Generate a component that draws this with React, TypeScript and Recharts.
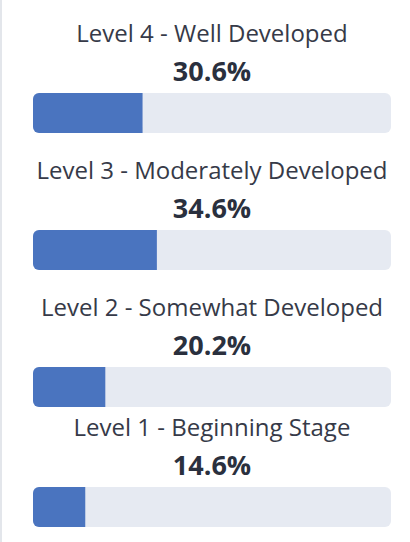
import React from 'react';
import { BarChart, Bar, XAxis, YAxis } from 'recharts';

// share of responses per development level (%)
const LEVELS = [
  'Level 4 - Well Developed',
  'Level 3 - Moderately Developed',
  'Level 2 - Somewhat Developed',
  'Level 1 - Beginning Stage',
];
const PERCENTS = [30.6, 34.6, 20.2, 14.6];

// space above each row, px
const ROW_GAPS = [19, 23, 23, 6];

const FONT = '"Open Sans", "Noto Sans", sans-serif';
const BAR_COLOR = '#4a74bf';
const TRACK_COLOR = '#e6eaf2';

const LevelRow = ({ label, value, gap }: { label: string; value: number; gap: number }) => {
  const data = [{ name: label, value }];
  return (
    <div style={{ marginTop: gap }}>
      <div
        style={{
          padding: '0 19px 0 33px',
          textAlign: 'center',
          fontSize: 24,
          lineHeight: '28px',
          color: '#363a48',
          marginBottom: 8,
          whiteSpace: 'nowrap',
        }}
      >
        {label}
      </div>
      <div
        style={{
          padding: '0 19px 0 33px',
          textAlign: 'center',
          fontSize: 27,
          fontWeight: 700,
          lineHeight: '32px',
          color: '#2a303e',
          marginBottom: 6,
        }}
      >
        {value.toFixed(1)}%
      </div>
      <BarChart
        width={410}
        height={40}
        data={data}
        layout="vertical"
        margin={{ top: 0, right: 19, bottom: 0, left: 33 }}
        barCategoryGap={0}
        barGap={0}
      >
        <XAxis type="number" domain={[0, 100]} hide />
        <YAxis type="category" dataKey="name" hide />
        <Bar
          dataKey="value"
          fill={BAR_COLOR}
          radius={[6, 0, 0, 6]}
          background={{ fill: TRACK_COLOR, radius: 6 }}
          isAnimationActive={false}
        />
      </BarChart>
    </div>
  );
};

export default function App() {
  return (
    <div
      style={{
        position: 'absolute',
        left: 0,
        top: 0,
        width: 410,
        height: 542,
        background: '#fff',
        fontFamily: FONT,
        overflow: 'hidden',
      }}
    >
      <div style={{ position: 'absolute', left: 0, top: 0, width: 2, height: 542, background: '#e3e6eb' }} />
      <div style={{ paddingTop: 0.1 }}>
        {LEVELS.map((label, i) => (
          <LevelRow key={label} label={label} value={PERCENTS[i]} gap={ROW_GAPS[i]} />
        ))}
      </div>
    </div>
  );
}
